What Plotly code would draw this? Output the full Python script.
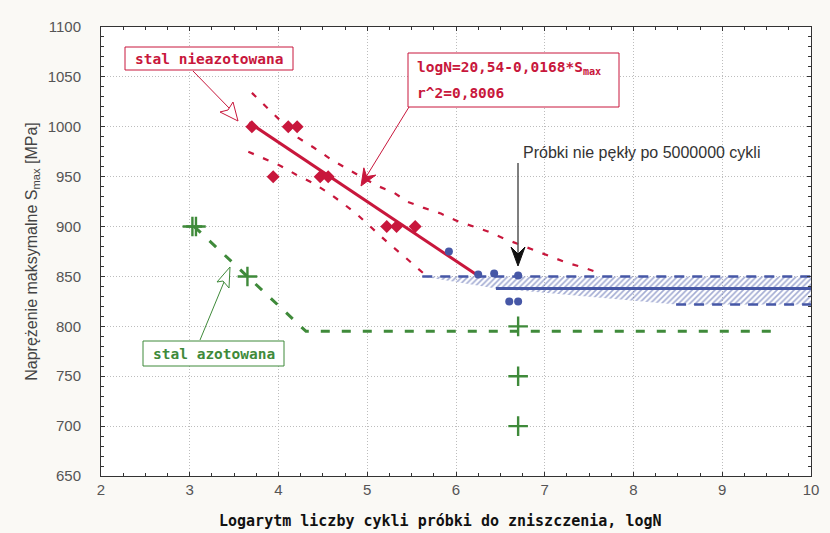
import math
import plotly.graph_objects as go

# ---------------- data ----------------
# unnitrided steel (stal nieazotowana) - failed specimens
red_logN = [3.70, 4.11, 4.21, 3.94, 4.47, 4.56, 5.22, 5.33, 5.54]
red_S = [1000, 1000, 1000, 950, 950, 950, 900, 900, 900]

# regression logN = a - b*S
reg_a = 20.54
reg_b = 0.0168
reg_logN = [3.67, 6.22]
reg_S = [(reg_a - v) / reg_b for v in reg_logN]

# confidence bands
upper_logN = [3.70, 3.87, 4.22, 4.40, 4.58, 4.77, 5.11, 5.30, 5.45, 5.63, 5.83, 6.00, 6.19, 6.36, 6.54, 6.71, 6.88, 7.07, 7.24, 7.43, 7.60]
upper_S = [1034, 1019, 989, 979, 968, 958, 941, 934, 925, 919, 913, 906, 900, 895, 888, 882, 876, 870, 864, 859, 854]
lower_logN = [3.66, 3.84, 4.02, 4.20, 4.38, 4.56, 4.73, 4.90, 5.07, 5.23, 5.43, 5.60, 5.66]
lower_S = [975, 968, 961, 952, 944, 934, 923, 911, 897, 884, 869, 855, 851]

# run-outs / fatigue limit region (blue)
blue_logN = [5.92, 6.25, 6.43, 6.70, 6.60, 6.70]
blue_S = [875, 852, 853, 851, 825, 825]
limit_logN = [6.45, 10.0]
limit_S = [838, 838]
band_logN = [5.62, 10.0, 10.0, 8.48, 6.45, 5.62]
band_S = [850, 850, 822, 822, 838, 850]
band_top_logN = [5.62, 10.0]
band_top_S = [850, 850]
band_bot_logN = [8.48, 10.0]
band_bot_S = [822, 822]

# nitrided steel (stal azotowana)
green_logN = [3.03, 3.07, 3.65, 6.70, 6.70, 6.70]
green_S = [900, 900, 850, 800, 750, 700]
green_line_logN = [3.05, 4.31, 9.60]
green_line_S = [900, 795, 795]

x_ticks = [2, 3, 4, 5, 6, 7, 8, 9, 10]
y_ticks = [650, 700, 750, 800, 850, 900, 950, 1000, 1050, 1100]

RED = "#c8173c"
BLUE = "#4657a6"
GREEN = "#3f8a3a"
MONO = "DejaVu Sans Mono"
SANS = "Liberation Sans, Arial"
PAPER = "#faf9f5"

# pixel helpers for annotation geometry
def px2x(p):
    return 2 + (p - 101) / 88.75

def px2y(p):
    return 1100 - (p - 27) * 450 / 449

def head_path(tail, tip, length, half, notch):
    dx, dy = tip[0] - tail[0], tip[1] - tail[1]
    d = math.hypot(dx, dy)
    ux, uy = dx / d, dy / d
    px, py = -uy, ux
    bx, by = tip[0] - length * ux, tip[1] - length * uy
    nx, ny = tip[0] - notch * ux, tip[1] - notch * uy
    pts = [tip, (bx + half * px, by + half * py), (nx, ny), (bx - half * px, by - half * py)]
    s = "M " + " L ".join(f"{px2x(a)},{px2y(b)}" for a, b in pts) + " Z"
    return s

fig = go.Figure()

# hatched band
fig.add_trace(go.Scatter(x=band_logN, y=band_S, mode="lines", fill="toself",
                         line=dict(width=0), fillcolor="rgba(0,0,0,0)",
                         fillpattern=dict(shape="/", fgcolor=BLUE, bgcolor="rgba(255,255,255,0)",
                                          size=4, solidity=0.4),
                         hoverinfo="skip"))
fig.add_trace(go.Scatter(x=band_top_logN, y=band_top_S, mode="lines",
                         line=dict(color=BLUE, width=2.5, dash="10px,8px")))
fig.add_trace(go.Scatter(x=band_bot_logN, y=band_bot_S, mode="lines",
                         line=dict(color=BLUE, width=2.5, dash="10px,8px")))
fig.add_trace(go.Scatter(x=limit_logN, y=limit_S, mode="lines",
                         line=dict(color=BLUE, width=3)))

# red bands and regression
fig.add_trace(go.Scatter(x=upper_logN, y=upper_S, mode="lines",
                         line=dict(color=RED, width=2.2, dash="6px,10px")))
fig.add_trace(go.Scatter(x=lower_logN, y=lower_S, mode="lines",
                         line=dict(color=RED, width=2.2, dash="6px,10px")))
fig.add_trace(go.Scatter(x=reg_logN, y=reg_S, mode="lines",
                         line=dict(color=RED, width=3)))
fig.add_trace(go.Scatter(x=red_logN, y=red_S, mode="markers",
                         marker=dict(symbol="diamond", size=10, color=RED)))

# blue points
fig.add_trace(go.Scatter(x=blue_logN, y=blue_S, mode="markers",
                         marker=dict(symbol="circle", size=8, color=BLUE)))

# green
fig.add_trace(go.Scatter(x=green_line_logN, y=green_line_S, mode="lines",
                         line=dict(color=GREEN, width=3, dash="9px,12px")))
fig.add_trace(go.Scatter(x=green_logN, y=green_S, mode="markers",
                         marker=dict(symbol="cross-thin", size=14, color=GREEN,
                                     line=dict(color=GREEN, width=2.4))))

def box(x0, y0, x1, y1, color):
    return dict(type="rect", xref="x", yref="y", x0=px2x(x0), x1=px2x(x1),
                y0=px2y(y0), y1=px2y(y1), line=dict(color=color, width=1),
                fillcolor="white", layer="above")

def seg(a, b, color, width=1):
    return dict(type="line", xref="x", yref="y", x0=px2x(a[0]), y0=px2y(a[1]),
                x1=px2x(b[0]), y1=px2y(b[1]), line=dict(color=color, width=width))

shapes = [
    box(125, 47, 293, 70, RED),
    box(408, 53, 619, 107, RED),
    box(143, 341, 284, 366, GREEN),
    # open arrow: stal nieazotowana
    seg((193, 71), (230, 109), RED),
    dict(type="path", xref="x", yref="y",
         path=f"M {px2x(238)},{px2y(121)} L {px2x(220)},{px2y(112)} L {px2x(228)},{px2y(110)} "
              f"L {px2x(233)},{px2y(102)} Z",
         line=dict(color=RED, width=1), fillcolor="white"),
    # open arrow: stal azotowana
    seg((200, 340), (224, 282), GREEN),
    dict(type="path", xref="x", yref="y",
         path=f"M {px2x(230)},{px2y(267)} L {px2x(217)},{px2y(282)} L {px2x(223)},{px2y(281)} "
              f"L {px2x(229)},{px2y(288)} Z",
         line=dict(color=GREEN, width=1), fillcolor="white"),
    # equation arrow (filled)
    seg((409, 107), (366, 177), RED),
    dict(type="path", xref="x", yref="y",
         path=head_path((409, 107), (361, 186), 17, 7, 11),
         line=dict(color=RED, width=1), fillcolor=RED),
    # run-out arrow
    seg((518, 163), (518, 255), "#555555", 1.5),
    dict(type="path", xref="x", yref="y",
         path=head_path((518, 163), (518, 266), 19, 7, 12),
         line=dict(color="#111111", width=1), fillcolor="#111111"),
]

annotations = [
    dict(x=px2x(209), y=px2y(58.5), xref="x", yref="y", showarrow=False,
         text="<b>stal nieazotowana</b>", font=dict(family=MONO, size=14.5, color=RED)),
    dict(x=px2x(415), y=px2y(68), xref="x", yref="y", showarrow=False, xanchor="left",
         text="<b>logN=20,54-0,0168*S<sub>max</sub></b>",
         font=dict(family=MONO, size=14.5, color=RED)),
    dict(x=px2x(415), y=px2y(93), xref="x", yref="y", showarrow=False, xanchor="left",
         text="<b>r^2=0,8006</b>",
         font=dict(family=MONO, size=14.5, color=RED)),
    dict(x=px2x(213.5), y=px2y(353.5), xref="x", yref="y", showarrow=False,
         text="<b>stal azotowana</b>", font=dict(family=MONO, size=14.5, color=GREEN)),
    dict(x=px2x(641), y=px2y(152), xref="x", yref="y", showarrow=False,
         text="Próbki nie pękły po 5000000 cykli",
         font=dict(family=SANS, size=16, color="#333333")),
    # x-axis title (paper coords are relative to the plot area)
    dict(x=(440 - 101) / 710, y=(476 - 521) / 449, xref="paper", yref="paper",
         showarrow=False, yanchor="middle",
         text="<b>Logarytm liczby cykli próbki do zniszczenia, logN</b>",
         font=dict(family=MONO, size=15, color="#111111")),
]

fig.update_layout(
    width=830, height=533,
    margin=dict(l=101, r=19, t=27, b=57, autoexpand=False),
    paper_bgcolor=PAPER, plot_bgcolor="white",
    showlegend=False,
    annotations=annotations, shapes=shapes,
    font=dict(family=SANS, size=14, color="#555555"),
)
fig.update_xaxes(range=[2, 10], tickvals=x_ticks, ticks="inside", ticklen=4,
                 tickcolor="#333", showline=True, linecolor="#333", linewidth=1,
                 mirror="allticks", showgrid=True, gridcolor="#bdbdbd", griddash="1px,2px",
                 zeroline=False, tickfont=dict(size=15, color="#555"), automargin=False,
                 minor=dict(dtick=0.25, ticks="inside", ticklen=3, tickcolor="#333", showgrid=False))
fig.update_yaxes(range=[650, 1100], tickvals=y_ticks, ticks="inside", ticklen=4,
                 tickcolor="#333", showline=True, linecolor="#333", linewidth=1,
                 mirror="allticks", showgrid=True, gridcolor="#bdbdbd", griddash="1px,2px",
                 zeroline=False, tickfont=dict(size=15, color="#555"), ticklabelstandoff=16,
                 automargin=False,
                 minor=dict(dtick=10, ticks="inside", ticklen=3, tickcolor="#333", showgrid=False),
                 title=dict(text="Naprężenie maksymalne S<sub>max</sub> [MPa]",
                            font=dict(size=16, color="#444444"), standoff=6))

fig.write_html("out.html", config={"displayModeBar": False},
               post_script=f"document.body.style.margin='0';document.body.style.background='{PAPER}';")
